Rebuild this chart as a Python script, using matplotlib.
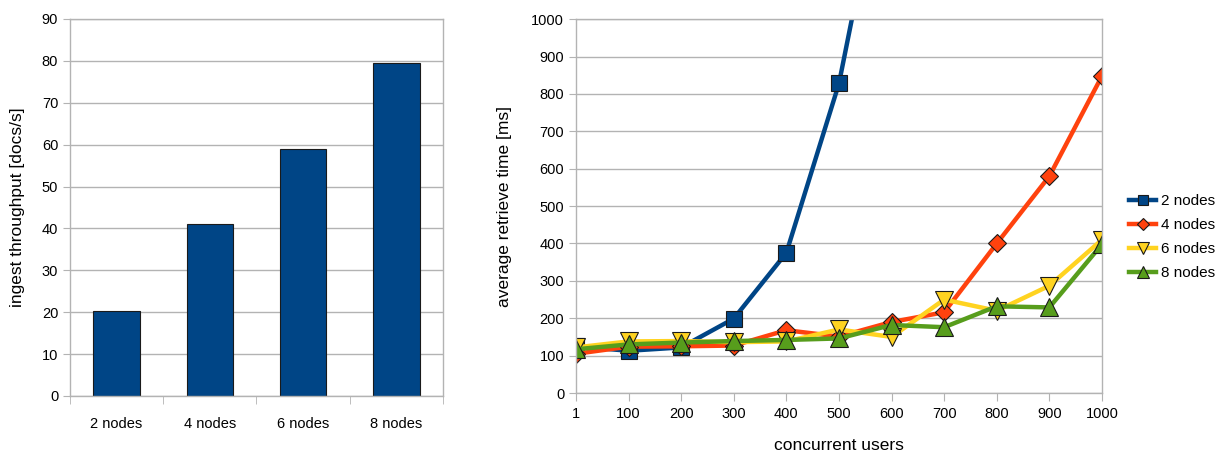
import matplotlib
matplotlib.use("Agg")
import matplotlib.pyplot as plt
import numpy as np

plt.rcParams['font.family'] = ['Liberation Sans', 'DejaVu Sans']

# bar chart data
node_labels = ['2 nodes', '4 nodes', '6 nodes', '8 nodes']
throughput = [20.3, 41.0, 59.0, 79.6]

# line chart data
users = ['1', '100', '200', '300', '400', '500', '600', '700', '800', '900', '1000']
nan = np.nan
t_2nodes = [125, 113, 122, 199, 375, 828, 1530, nan, nan, nan, nan]
t_4nodes = [105, 124, 125, 127, 168, 151, 190, 216, 400, 580, 848]
t_6nodes = [122, 138, 139, 136, 138, 170, 150, 250, 220, 287, 410]
t_8nodes = [117, 130, 135, 139, 142, 146, 182, 176, 232, 229, 398]

GRID = '#b3b3b3'

fig = plt.figure(figsize=(12.27, 4.57), dpi=100)

def style_axes(ax):
    for s in ax.spines.values():
        s.set_color(GRID)
        s.set_linewidth(1)
    ax.yaxis.grid(True, color=GRID, linewidth=1)
    ax.set_axisbelow(True)
    ax.tick_params(axis='both', colors=GRID, labelcolor='black', labelsize=10.5)

# left: ingest throughput bars
ax1 = fig.add_axes([0.057, 0.1335, 0.304, 0.825])
x = np.arange(len(node_labels))
ax1.bar(x, throughput, width=0.5, color='#004586', edgecolor='#1a1a1a', linewidth=0.8)
ax1.set_xlim(-0.5, len(node_labels) - 0.5)
ax1.set_ylim(0, 90)
ax1.set_yticks(range(0, 91, 10))
ax1.set_xticks(x)
ax1.set_xticklabels(node_labels)
ax1.set_xticks(np.arange(-0.5, len(node_labels)), minor=True)
ax1.tick_params(axis='x', which='major', length=0, pad=15)
ax1.tick_params(axis='x', which='minor', length=6, color=GRID)
ax1.tick_params(axis='y', length=5)
ax1.set_ylabel('ingest throughput [docs/s]', fontsize=12.5, labelpad=12)
style_axes(ax1)

# right: average retrieve time lines
ax2 = fig.add_axes([0.4694, 0.14, 0.4287, 0.818])
xs = np.arange(len(users))
series = [
    (t_2nodes, '2 nodes', '#004586', 's', 12),
    (t_4nodes, '4 nodes', '#ff420e', 'D', 9),
    (t_6nodes, '6 nodes', '#ffd320', 'v', 12.5),
    (t_8nodes, '8 nodes', '#579d1c', '^', 12.5),
]
for vals, lab, col, mk, ms in series:
    ax2.plot(xs, vals, color=col, linewidth=3.2, marker=mk, markersize=ms,
             markerfacecolor=col, markeredgecolor='#1a1a1a', markeredgewidth=0.8,
             label=lab)
ax2.set_xlim(0, len(users) - 1)
ax2.set_ylim(0, 1000)
ax2.set_yticks(range(0, 1001, 100))
ax2.set_xticks(xs)
ax2.set_xticklabels(users)
ax2.tick_params(axis='x', length=6, pad=4)
ax2.tick_params(axis='y', length=5)
ax2.set_xlabel('concurrent users', fontsize=12.5, labelpad=12)
ax2.set_ylabel('average retrieve time [ms]', fontsize=12.5, labelpad=14)
style_axes(ax2)

leg = ax2.legend(loc='center left', bbox_to_anchor=(1115 / 1227, 1 - 237 / 457),
                 bbox_transform=fig.transFigure, frameon=False, markerscale=0.65,
                 fontsize=11, handlelength=1.8, handletextpad=0.3, labelspacing=0.65)

fig.savefig('out.png', dpi=100)
